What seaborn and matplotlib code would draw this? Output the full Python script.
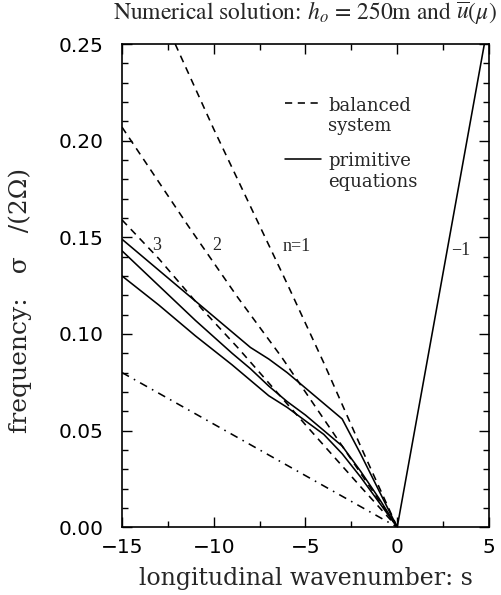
import numpy as np
import pandas as pd
import matplotlib
matplotlib.use("Agg")
import matplotlib.pyplot as plt
import seaborn as sns
from matplotlib.ticker import MultipleLocator, FormatStrFormatter
from matplotlib.lines import Line2D
from matplotlib.legend_handler import HandlerLine2D

# ---- data ----
# balanced system (dashed), n = 1, 2, 3
bal_n1_s = [-12.1, -10.0, -8.0, -6.0, -4.0, -2.0, 0.0]
bal_n1_f = [0.250, 0.206, 0.166, 0.126, 0.085, 0.042, 0.0]
bal_n2_s = [-15.0, -11.4, -8.7, -6.3, -3.0, 0.0]
bal_n2_f = [0.207, 0.156, 0.119, 0.088, 0.042, 0.0]
bal_n3_s = [-15.0, -13.0, -10.65, -8.7, -5.0, -2.0, 0.0]
bal_n3_f = [0.159, 0.139, 0.113, 0.093, 0.053, 0.021, 0.0]
# primitive equations (solid)
pe_top_s = [-15, -13, -11, -9, -8, -7, -6, -5, -4, -3, -2, -1, 0]
pe_top_f = [0.149, 0.133, 0.117, 0.101, 0.093, 0.087, 0.080, 0.072, 0.064, 0.056, 0.038, 0.019, 0.0]
pe_mid_s = [-15, -13, -11, -9, -8, -7, -6, -5, -4, -3, -2, -1, 0]
pe_mid_f = [0.143, 0.125, 0.107, 0.090, 0.082, 0.073, 0.065, 0.058, 0.050, 0.042, 0.029, 0.015, 0.0]
pe_bot_s = [-15, -13, -11, -9, -8, -7, -6, -5, -4, -3, -2, -1, 0]
pe_bot_f = [0.130, 0.115, 0.099, 0.084, 0.076, 0.068, 0.062, 0.055, 0.048, 0.038, 0.026, 0.013, 0.0]
pe_east_s = [0.0, 4.75]
pe_east_f = [0.0, 0.25]
# dash-dot reference line
dd_s = [-15.0, 0.0]
dd_f = [0.080, 0.0]

curve_labels = ["3", "2", "n=1", "\u22121"]
curve_label_s = [-13.1, -9.85, -5.5, 3.45]
curve_label_f = [0.1455, 0.1455, 0.145, 0.143]

x_ticks = [-15, -10, -5, 0, 5]
y_ticks = [0.00, 0.05, 0.10, 0.15, 0.20, 0.25]

# ---- figure ----
sns.set_style("ticks")
plt.rcParams['mathtext.fontset'] = 'stix'
fig = plt.figure(figsize=(5.02, 5.95), dpi=100)
ax = fig.add_axes([0.243, 0.114, 0.731, 0.812])

lw = 1.15
dash = (4.5, 3.5)

def draw(s, f, **kw):
    df = pd.DataFrame({"s": s, "f": f})
    sns.lineplot(data=df, x="s", y="f", ax=ax, sort=False, estimator=None,
                 color="black", lw=lw, **kw)

for s, f in [(bal_n1_s, bal_n1_f), (bal_n2_s, bal_n2_f), (bal_n3_s, bal_n3_f)]:
    draw(s, f, dashes=dash)
for s, f in [(pe_top_s, pe_top_f), (pe_mid_s, pe_mid_f), (pe_bot_s, pe_bot_f), (pe_east_s, pe_east_f)]:
    draw(s, f)
draw(dd_s, dd_f, dashes=(5, 3.5, 1, 3.5))

for t, xs, ys in zip(curve_labels, curve_label_s, curve_label_f):
    ax.text(xs, ys, t, fontsize=13, family="Liberation Serif", ha="center", va="center")

ax.set_xlim(-15, 5)
ax.set_ylim(0, 0.25)
ax.set_xticks(x_ticks)
ax.set_yticks(y_ticks)
ax.xaxis.set_minor_locator(MultipleLocator(2.5))
ax.yaxis.set_minor_locator(MultipleLocator(0.01))
ax.yaxis.set_major_formatter(FormatStrFormatter("%.2f"))
ax.tick_params(which="both", direction="in", top=True, right=True, colors="black",
               labelsize=14.5, width=1.0)
ax.tick_params(which="major", length=7)
ax.tick_params(which="minor", length=4)
ax.tick_params(axis="y", pad=13)
ax.tick_params(axis="x", pad=8)
for lab in ax.get_xticklabels() + ax.get_yticklabels():
    lab.set_family("DejaVu Sans")
for sp in ax.spines.values():
    sp.set_visible(True)
    sp.set_color("black")
    sp.set_linewidth(1.2)

ax.set_xlabel("longitudinal wavenumber: s", fontsize=17, family="DejaVu Serif", labelpad=7)
ax.set_ylabel("frequency:   \u03c3   /(2\u03a9)", fontsize=18, family="DejaVu Serif")
ax.yaxis.set_label_coords(-0.245, 0.47)

ax.set_title(r"Numerical solution: $h_o$ = 250m and $\overline{u}(\mu)$",
             fontsize=17, family="STIXGeneral", pad=18)


class RaisedHandler(HandlerLine2D):
    def __init__(self, dy, **kw):
        super().__init__(**kw)
        self.dy = dy

    def create_artists(self, legend, orig_handle, xdescent, ydescent, width,
                       height, fontsize, trans):
        arts = super().create_artists(legend, orig_handle, xdescent, ydescent,
                                      width, height, fontsize, trans)
        for a in arts:
            a.set_ydata([y + self.dy for y in a.get_ydata()])
        return arts


handles = [Line2D([], [], color="black", lw=lw, dashes=dash),
           Line2D([], [], color="black", lw=lw)]
leg = ax.legend(handles, ["balanced\nsystem", "primitive\nequations"],
                loc="upper left", bbox_to_anchor=(0.40, 0.925), frameon=False,
                handlelength=2.0, handletextpad=0.4, labelspacing=0.95,
                prop={"family": "DejaVu Serif", "size": 13},
                handler_map={Line2D: RaisedHandler(10)})

fig.savefig("out.png", dpi=100)
